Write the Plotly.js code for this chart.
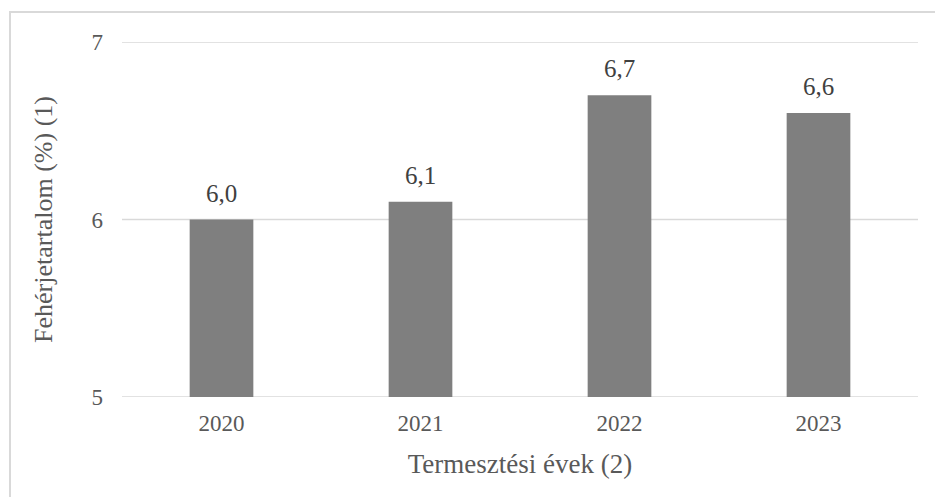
<!DOCTYPE html>
<html>
<head>
<meta charset="utf-8">
<script src="https://cdn.plot.ly/plotly-3.0.1.min.js"></script>
<style>
html,body{margin:0;padding:0;background:#fff;}
#wrap{position:relative;width:935px;height:497px;overflow:hidden;}
#frame{position:absolute;left:9px;top:11px;width:940px;height:500px;border:2px solid #d9d9d9;box-sizing:border-box;pointer-events:none;}
#chart{position:absolute;left:0;top:0;width:935px;height:497px;}
</style>
</head>
<body>
<div id="wrap">
<div id="chart"></div>
<div id="frame"></div>
</div>
<script>
const years = ['2020', '2021', '2022', '2023'];
const protein = [6.0, 6.1, 6.7, 6.6];
const yTicks = [5, 6, 7];

const font = 'Liberation Serif, Times New Roman, serif';
const textColor = '#595959';

const annotations = years.map((y, i) => ({
  x: i, y: protein[i], xref: 'x', yref: 'y',
  text: protein[i].toFixed(1).replace('.', ','),
  showarrow: false, yanchor: 'bottom', yshift: 11,
  font: {family: font, size: 25, color: '#404040'}
}));

const gridShapes = yTicks.map(v => ({
  type: 'line', xref: 'paper', yref: 'y', x0: 0, x1: 1, y0: v, y1: v,
  line: {color: '#d9d9d9', width: 1.5}, layer: 'below'
}));

Plotly.newPlot('chart', [{
  type: 'bar', x: years, y: protein,
  marker: {color: '#7f7f7f'},
  hoverinfo: 'skip'
}], {
  width: 935, height: 497,
  margin: {l: 122, r: 17, t: 42, b: 100},
  paper_bgcolor: '#fff', plot_bgcolor: 'rgba(0,0,0,0)',
  separators: ',.',
  bargap: 0.68,
  showlegend: false,
  font: {family: font, color: textColor},
  xaxis: {
    type: 'category', showgrid: false, zeroline: false, showline: false,
    range: [-0.5, 3.5],
    ticks: '', ticklabelstandoff: 10,
    tickfont: {family: font, size: 23, color: textColor},
    title: {text: 'Termesztési évek (2)', font: {family: font, size: 27, color: textColor}, standoff: 19}
  },
  yaxis: {
    range: [5, 7], tickvals: yTicks, ticktext: yTicks.map(String),
    showgrid: false, zeroline: false, showline: false, ticks: '', ticklabelstandoff: 18,
    tickfont: {family: font, size: 23, color: textColor},
    title: {text: 'Fehérjetartalom (%) (1)', font: {family: font, size: 26, color: textColor}, standoff: 31}
  },
  shapes: gridShapes,
  annotations: annotations
}, {displayModeBar: false, staticPlot: true});
</script>
</body>
</html>
